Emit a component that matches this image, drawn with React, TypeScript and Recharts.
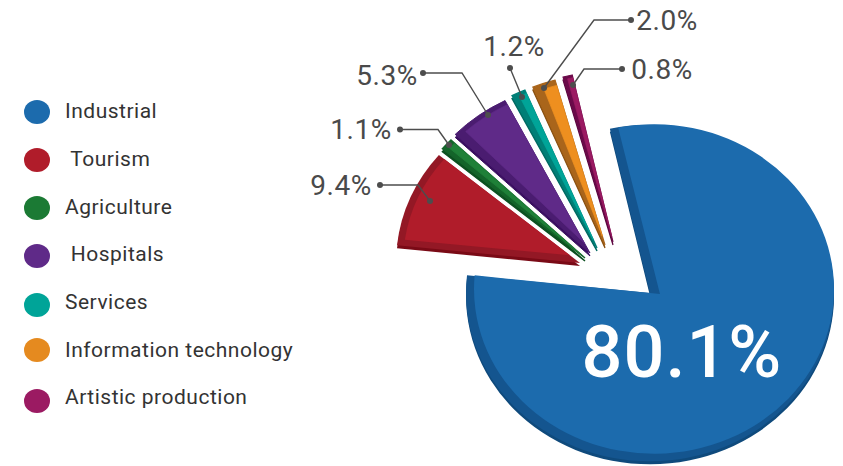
import { Legend, Pie, PieChart } from 'recharts';

const categories = ['Industrial', ' Tourism', 'Agriculture', ' Hospitals', 'Services', 'Information technology', 'Artistic production'];
const shares = [80.1, 9.4, 1.1, 5.3, 1.2, 2.0, 0.8];

const faceColors = ['#1c6bad', '#b01c2a', '#1f8038', '#5f2a88', '#00a498', '#ee8f1f', '#9b1a62'];
const bandColors = ['#14558f', '#931825', '#14642a', '#4a1c70', '#007f77', '#a9651b', '#6b0a4a'];
const edgeColors = ['#0f4a7c', '#7a0a16', '#0c5020', '#3a0f60', '#006a62', '#8a5010', '#5a063e'];
const legendDotColors = ['#1c6bad', '#b01c2a', '#1b7a34', '#5f2a88', '#00a498', '#e58a1f', '#9b1a62'];

// how far each slice is pulled away from the pie centre
const sliceOffsets = [[0, 0], [-70, -30], [-65, -35], [-60, -40], [-53, -45], [-45, -48], [-37, -51]];
// the narrow slices run a little longer than the big one
const sliceReach = [0, 0, 2, 3, 3, 3, 3];
// outline thickening so the thin slices keep some body near their tips
const sliceFatten = [0, 0, 1.4, 1, 1.4, 1.2, 1.2];
// bevel: degrees trimmed off the leading edge, arc inset, apex slide along the trailing edge
const bevels = [
  { trim: 1.1, endTrim: 1.3, inset: 4, along: -10, shiftX: 4, shiftY: -4 },
  { trim: 2.2, endTrim: 0, inset: 7, along: 13, shiftX: 0, shiftY: 0 },
  { trim: 1.6, endTrim: 0, inset: 5, along: 6, shiftX: 0, shiftY: 0 },
  { trim: 3, endTrim: 0, inset: 5, along: 12, shiftX: 0, shiftY: 0 },
  { trim: 2, endTrim: 0, inset: 4, along: 10, shiftX: 0, shiftY: 0 },
  { trim: 3, endTrim: 0, inset: 6, along: 10, shiftX: 0, shiftY: 0 },
  { trim: 1.2, endTrim: 0, inset: 3, along: 6, shiftX: 0, shiftY: 0 },
];

// value label position and leader polyline for each slice (the big one has no leader)
const labelSpots = [
  { x: 682, y: 352, anchor: 'middle', size: 72, color: '#ffffff', line: [] as number[][] },
  { x: 341, y: 185, anchor: 'middle', size: 28, color: '#4a4a4a', line: [[380, 185], [418, 185], [430, 201]] },
  { x: 361, y: 129, anchor: 'middle', size: 28, color: '#4a4a4a', line: [[400, 129.5], [438, 129.5], [449, 145]] },
  { x: 387, y: 75, anchor: 'middle', size: 28, color: '#4a4a4a', line: [[423, 73], [462, 73], [488, 115]] },
  { x: 514, y: 46, anchor: 'middle', size: 28, color: '#4a4a4a', line: [[510, 68], [522, 97]] },
  { x: 667, y: 20, anchor: 'middle', size: 28, color: '#4a4a4a', line: [[631, 20], [594, 20], [544, 88]] },
  { x: 662, y: 69, anchor: 'middle', size: 28, color: '#4a4a4a', line: [[622, 69], [584, 69], [573, 85]] },
];

const legendRows = [
  { dot: 112, text: 111 },
  { dot: 160, text: 159 },
  { dot: 208, text: 207 },
  { dot: 256, text: 254 },
  { dot: 305, text: 302 },
  { dot: 350, text: 350 },
  { dot: 401, text: 397 },
];

const SQUASH = 0.915;
const FONT = 'Roboto, sans-serif';
const RAD = Math.PI / 180;

const tableData = categories.map((name, i) => ({ name, value: shares[i], fill: faceColors[i] }));

const onArc = (cx: number, cy: number, r: number, angle: number) => [
  cx + r * Math.cos(angle * RAD),
  cy - r * SQUASH * Math.sin(angle * RAD),
];

function wedgePath(apex: number[], cx: number, cy: number, r: number, start: number, end: number) {
  const a = onArc(cx, cy, r, start);
  const b = onArc(cx, cy, r, end);
  const large = start - end > 180 ? 1 : 0;
  return `M${apex[0]},${apex[1]}L${a[0]},${a[1]}A${r},${r * SQUASH} 0 ${large} 1 ${b[0]},${b[1]}Z`;
}

// Each slice is three stacked wedges: dark lower edge, bevel band, flat top face
function BeveledSlice(props: any) {
  const { cx, cy, outerRadius, startAngle, endAngle, name } = props;
  const i = categories.indexOf(name ?? props.payload?.name);
  const [dx, dy] = sliceOffsets[i];
  const bevel = bevels[i];
  const x = cx + dx;
  const y = cy + dy;
  const radius = outerRadius + sliceReach[i];
  const outline = wedgePath([x, y], x, y, radius, startAngle, endAngle);
  const faceApex = [
    x + bevel.along * Math.cos(endAngle * RAD),
    y - bevel.along * SQUASH * Math.sin(endAngle * RAD),
  ];
  const face = wedgePath(
    faceApex,
    x + bevel.shiftX,
    y + bevel.shiftY,
    radius - bevel.inset,
    startAngle - bevel.trim,
    endAngle + bevel.endTrim,
  );
  const fatten = sliceFatten[i];
  return (
    <g>
      <path d={outline} fill={edgeColors[i]} stroke={edgeColors[i]} strokeWidth={fatten} transform="translate(0,3)" />
      <path d={outline} fill={bandColors[i]} stroke={bandColors[i]} strokeWidth={fatten} />
      <path d={face} fill={faceColors[i]} stroke={faceColors[i]} strokeWidth={fatten * 0.6} />
    </g>
  );
}

function ValueLabel(props: any) {
  const i = categories.indexOf(props.name ?? props.payload?.name);
  const spot = labelSpots[i];
  return (
    <g>
      {spot.line.length > 0 && (
        <polyline points={spot.line.map((p) => p.join(',')).join(' ')} fill="none" stroke="#4d4d4d" strokeWidth={1.4} />
      )}
      {spot.line.length > 0 && <circle cx={spot.line[0][0]} cy={spot.line[0][1]} r={3} fill="#4d4d4d" />}
      {spot.line.length > 0 && (
        <circle cx={spot.line[spot.line.length - 1][0]} cy={spot.line[spot.line.length - 1][1]} r={3} fill="#4d4d4d" />
      )}
      <text
        x={spot.x}
        y={spot.y}
        textAnchor={spot.anchor}
        dominantBaseline="central"
        fontFamily={FONT}
        fontSize={spot.size}
        fontWeight={i === 0 ? 500 : 400}
        letterSpacing={i === 0 ? 1 : 0.5}
        fill={spot.color}
      >
        {`${shares[i].toFixed(1)}%`}
      </text>
    </g>
  );
}

function SectorLegend() {
  return (
    <div style={{ position: 'relative', width: 310, height: 420 }}>
      {categories.map((name, i) => (
        <div key={name}>
          <div
            style={{
              position: 'absolute',
              left: 24,
              top: legendRows[i].dot - 12,
              width: 26,
              height: 24,
              borderRadius: '50%',
              background: legendDotColors[i],
            }}
          />
          <div
            style={{
              position: 'absolute',
              left: 65,
              top: legendRows[i].text - 14,
              height: 28,
              lineHeight: '28px',
              fontFamily: FONT,
              fontSize: 21,
              letterSpacing: 0.5,
              color: '#333333',
              whiteSpace: 'pre',
            }}
          >
            {name}
          </div>
        </div>
      ))}
    </div>
  );
}

export default function App() {
  return (
    <div style={{ position: 'absolute', left: 0, top: 0, width: 843, height: 466, background: '#ffffff' }}>
      <PieChart width={843} height={466} margin={{ top: 0, right: 0, bottom: 0, left: 0 }}>
        <Legend
          layout="vertical"
          align="center"
          verticalAlign="middle"
          content={<SectorLegend />}
          wrapperStyle={{ left: 0, top: 0, width: 310, margin: 0 }}
        />
        <Pie
          data={tableData}
          dataKey="value"
          nameKey="name"
          cx={650}
          cy={293}
          innerRadius={0}
          outerRadius={184}
          startAngle={102.6}
          endAngle={-257.4}
          shape={BeveledSlice}
          label={ValueLabel}
          labelLine={false}
          isAnimationActive={false}
        />
      </PieChart>
    </div>
  );
}
